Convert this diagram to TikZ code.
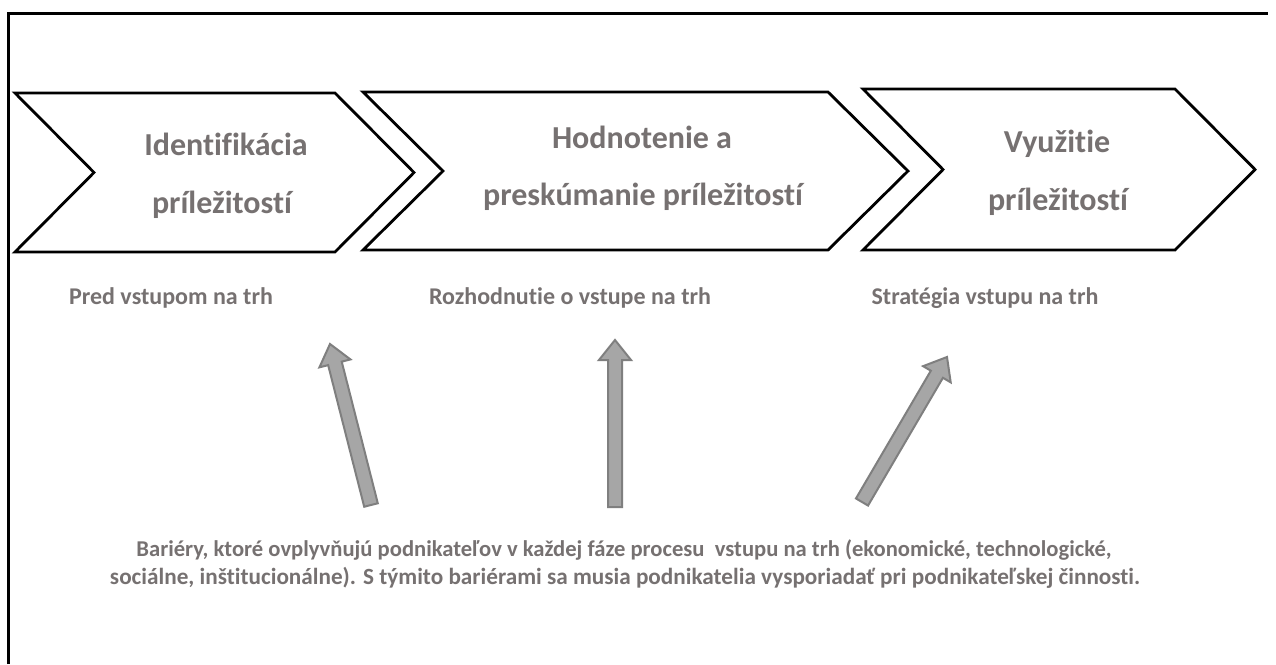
\documentclass[tikz,border=0pt]{standalone}
\usepackage{fontspec}
\setmainfont{Carlito}[Ligatures={NoCommon}]
\usetikzlibrary{calc}
\definecolor{txtgray}{RGB}{118,113,113}
\definecolor{arrfill}{RGB}{166,166,166}
\definecolor{arrline}{RGB}{127,127,127}

% chevron: left x, right x, top y, bottom y, point depth
\newcommand{\chevronshape}[5]{%
  \draw[chevron] (#1,#3) -- (#2,#3) -- ({#2+#5},{(#3+#4)/2}) -- (#2,#4)
    -- (#1,#4) -- ({#1+#5},{(#3+#4)/2}) -- cycle;}

% block arrow from tail coordinate #1 to tip coordinate #2
\newcommand{\blockarrow}[2]{%
  \coordinate (#2neck) at ($(#2)!20pt!(#1)$);
  \draw[barrow] ($(#1)!7pt!90:(#2)$) -- ($(#2neck)!7pt!90:(#2)$)
    -- ($(#2neck)!16pt!90:(#2)$) -- (#2) -- ($(#2neck)!16pt!-90:(#2)$)
    -- ($(#2neck)!7pt!-90:(#2)$) -- ($(#1)!7pt!-90:(#2)$) -- cycle;}

\begin{document}
\begin{tikzpicture}[x=1pt,y=-1pt,
  chevron/.style={draw=black, line width=2.8pt, fill=white, line join=miter},
  title/.style={text=txtgray, font=\bfseries\fontsize{32}{38}\selectfont,
    anchor=base, inner sep=0pt},
  stage/.style={text=txtgray, font=\bfseries\fontsize{24}{28}\selectfont,
    anchor=base, inner sep=0pt},
  note/.style={text=txtgray, font=\bfseries\fontsize{23.2}{28}\selectfont,
    anchor=base, inner sep=0pt},
  barrow/.style={draw=arrline, fill=arrfill, line width=2pt, line join=miter},
  frame/.style={draw=black, line width=3pt}]
\useasboundingbox (0,0) rectangle (1276,664);
\fill[white] (0,0) rectangle (1276,664);

% outer frame: its top and left sides
\draw[frame] (8,664) -- (8,13) -- (1268,13);

% process stages
\chevronshape{15}{335}{93}{252}{79}
\chevronshape{363}{828}{92}{250}{80}
\chevronshape{863}{1175}{89}{250}{80}

% stage titles
\node[title] (t1a) at (226,155) {Identifikácia};
\node[title] (t1b) at (222,213) {príležitostí};
\node[title] (t2a) at (642,148) {Hodnotenie a};
\node[title] (t2b) at (643,205) {preskúmanie príležitostí};
\node[title] (t3a) at (1057,152) {Využitie};
\node[title] (t3b) at (1058,210) {príležitostí};

% stage captions
\node[stage] (s1) at (171,304) {Pred vstupom na trh};
\node[stage] (s2) at (570,304) {Rozhodnutie o vstupe na trh};
\node[stage] (s3) at (985,304) {Stratégia vstupu na trh};

% barriers
\node[note, font=\bfseries\fontsize{22.6}{28}\selectfont] (n1) at (624,556) {Bariéry, ktoré ovplyvňujú podnikateľov v každej fáze procesu\ \ vstupu na trh (ekonomické, technologické,};
\node[note] (n2) at (625,584) {sociálne, inštitucionálne). S týmito bariérami sa musia podnikatelia vysporiadať pri podnikateľskej činnosti.};

% arrows from the barriers up to the stages
\coordinate (a1tail) at (371,505);
\coordinate (a1tip) at (330,344);
\coordinate (a2tail) at (615,507);
\coordinate (a2tip) at (615,340);
\coordinate (a3tail) at (862,502);
\coordinate (a3tip) at (947,357);
\blockarrow{a1tail}{a1tip}
\blockarrow{a2tail}{a2tip}
\blockarrow{a3tail}{a3tip}
\end{tikzpicture}
\end{document}
